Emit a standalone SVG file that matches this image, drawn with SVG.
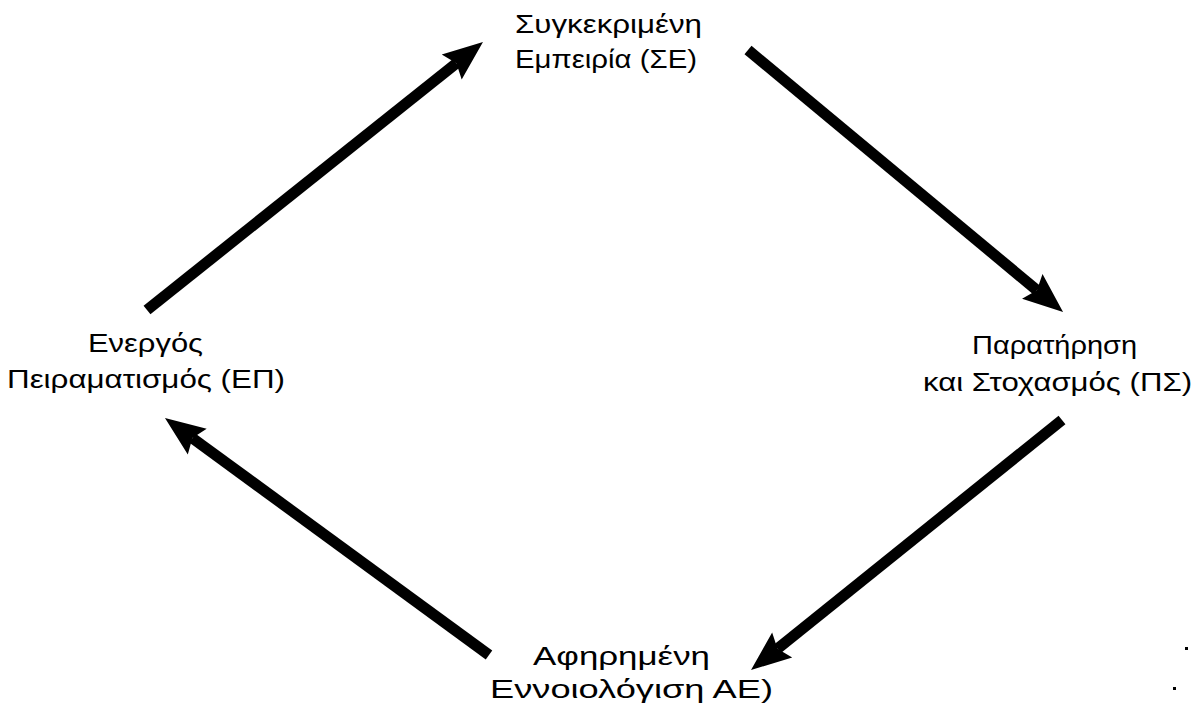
<svg xmlns="http://www.w3.org/2000/svg" width="1199" height="711" viewBox="0 0 1199 711">
  <style>
    .lbl { font-family: "Liberation Sans", Arial, sans-serif; font-size: 26px; fill: #000; }
    .flow { stroke: #000; stroke-width: 11; fill: none; stroke-linecap: butt; }
  </style>
  <defs>
    <marker id="head" markerUnits="userSpaceOnUse" viewBox="-8 -18 44 36" markerWidth="44" markerHeight="36" refX="0" refY="0" orient="auto" overflow="visible">
      <path d="M-6,-16 L34,0 L-6,16 L0,0 z" fill="#000"/>
    </marker>
  </defs>
  <rect width="1199" height="711" fill="#fff"/>

  <!-- cycle connectors -->
  <g id="connectors">
    <line class="flow" x1="147" y1="310" x2="456.4" y2="63.2" marker-end="url(#head)"/>
    <line class="flow" x1="748" y1="50" x2="1036.9" y2="290.2" marker-end="url(#head)"/>
    <line class="flow" x1="1062" y1="420" x2="777.5" y2="648.7" marker-end="url(#head)"/>
    <line class="flow" x1="489" y1="655" x2="192.4" y2="438.1" marker-end="url(#head)"/>
  </g>

  <g id="node-se">
    <text class="lbl" x="515" y="33" textLength="187" lengthAdjust="spacingAndGlyphs">Συγκεκριμένη</text>
    <text class="lbl" x="515" y="68" textLength="182" lengthAdjust="spacingAndGlyphs">Εμπειρία (ΣΕ)</text>
  </g>
  <g id="node-ps">
    <text class="lbl" x="972" y="354" textLength="165" lengthAdjust="spacingAndGlyphs">Παρατήρηση</text>
    <text class="lbl" x="923" y="391" textLength="269" lengthAdjust="spacingAndGlyphs">και Στοχασμός (ΠΣ)</text>
  </g>
  <g id="node-ae">
    <text class="lbl" x="533" y="665" textLength="177" lengthAdjust="spacingAndGlyphs">Αφηρημένη</text>
    <text class="lbl" x="490" y="698" textLength="283" lengthAdjust="spacingAndGlyphs">Εννοιολόγιση ΑΕ)</text>
  </g>
  <g id="node-ep">
    <text class="lbl" x="88" y="352" textLength="115" lengthAdjust="spacingAndGlyphs">Ενεργός</text>
    <text class="lbl" x="7" y="388" textLength="278" lengthAdjust="spacingAndGlyphs">Πειραματισμός (ΕΠ)</text>
  </g>

  <!-- specks -->
  <rect x="1185" y="647" width="3" height="3" fill="#000"/>
  <rect x="1173" y="687" width="3" height="3" fill="#000"/>
</svg>
